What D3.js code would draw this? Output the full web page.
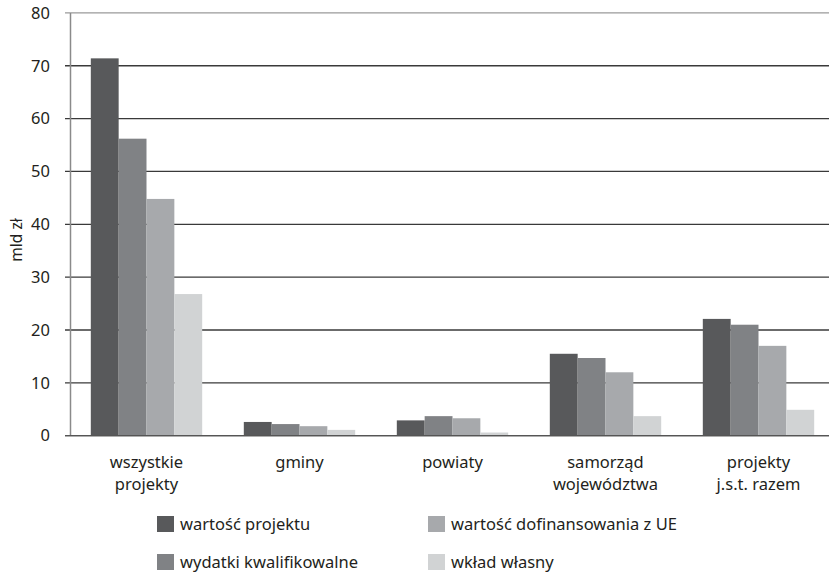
<!DOCTYPE html>
<html><head><meta charset="utf-8">
<script src="https://cdn.jsdelivr.net/npm/d3@7/dist/d3.min.js"></script>
<style>body{margin:0;background:#fff;} svg text{font-family:"Noto Sans","Open Sans",sans-serif;fill:#231f20;}</style>
</head><body>
<svg id="c" width="829" height="572"></svg>
<script>
const categories = [["wszystkie","projekty"],["gminy"],["powiaty"],["samorząd","województwa"],["projekty","j.s.t. razem"]];
const seriesNames = ["wartość projektu","wydatki kwalifikowalne","wartość dofinansowania z UE","wkład własny"];
const wartoscProjektu = [71.4, 2.6, 2.9, 15.5, 22.1];
const wydatkiKwalifikowalne = [56.2, 2.2, 3.7, 14.7, 21.0];
const dofinansowanieUE = [44.8, 1.8, 3.3, 12.0, 17.0];
const wkladWlasny = [26.8, 1.1, 0.6, 3.7, 4.9];
const yTicks = [0,10,20,30,40,50,60,70,80];
const colors = ["#58595b","#808285","#a7a9ac","#d1d3d4"];
const series = [wartoscProjektu, wydatkiKwalifikowalne, dofinansowanieUE, wkladWlasny];

const svg = d3.select("#c");
const x0 = d3.scaleBand().domain(d3.range(categories.length)).range([70, 835]).paddingInner(0.272).paddingOuter(0.136);
const x1 = d3.scaleBand().domain(d3.range(series.length)).range([0, x0.bandwidth()]);
const y = d3.scaleLinear().domain([0,80]).range([435.7, 12.9]);

// gridlines
svg.append("g").selectAll("line").data(yTicks).join("line")
  .attr("x1", 65).attr("x2", 829)
  .attr("y1", d=>y(d)).attr("y2", d=>y(d))
  .attr("stroke", d=> d===80 ? "#9a9a9a" : "#3a3a3a").attr("stroke-width", 1.3);

// bars
const g = svg.append("g");
series.forEach((s,si)=>{
  g.selectAll(null).data(s).join("rect")
    .attr("x",(d,i)=>x0(i)+x1(si)).attr("width",x1.bandwidth())
    .attr("y",d=>y(d)).attr("height",d=>y(0)-y(d))
    .attr("fill",colors[si]);
});

// y axis line
svg.append("line").attr("x1",70.5).attr("x2",70.5).attr("y1",y(80)).attr("y2",y(0)).attr("stroke","#8a8a8a").attr("stroke-width",1.5);
// zero line on top
svg.append("line").attr("x1",65).attr("x2",829).attr("y1",y(0)).attr("y2",y(0)).attr("stroke","#555").attr("stroke-width",1.3);

// tick labels
svg.append("g").selectAll("text").data(yTicks).join("text")
  .attr("x",50).attr("y",d=>y(d)).attr("dy","0.35em").attr("text-anchor","end")
  .attr("font-size",16.5).text(d=>d);

svg.append("text").attr("transform","translate(22,240) rotate(-90)").attr("text-anchor","middle")
  .attr("font-size",15.5).text("mld zł");

// category labels
categories.forEach((lines,i)=>{
  const cx = x0(i)+x0.bandwidth()/2;
  lines.forEach((l,li)=>{
    svg.append("text").attr("x",cx).attr("y",468+li*22).attr("text-anchor","middle")
      .attr("font-size",16.5).text(l);
  });
});

// legend
const legPos = [[157,524],[157,562],[428,524],[428,562]];
seriesNames.forEach((n,i)=>{
  const [lx,ly] = legPos[i];
  svg.append("rect").attr("x",lx).attr("y",ly-8).attr("width",17).attr("height",16).attr("fill",colors[i]);
  svg.append("text").attr("x",lx+23).attr("y",ly).attr("dy","0.35em").attr("font-size",16.5).text(n);
});
</script>
</body></html>
